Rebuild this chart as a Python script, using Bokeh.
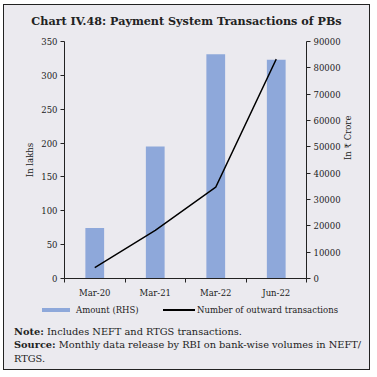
from bokeh.plotting import figure
from bokeh.models import Range1d, LinearAxis, FixedTicker, Div
from bokeh.layouts import column
from bokeh.embed import file_html
from bokeh.resources import INLINE

# ---- data ----
categories = ["Mar-20", "Mar-21", "Mar-22", "Jun-22"]
amount_crore = [19200, 50100, 85200, 83100]          # bars, RHS
transactions_lakh = [16, 71, 135, 324]               # line, LHS
left_ticks = [0, 50, 100, 150, 200, 250, 300, 350]
right_ticks = [0, 10000, 20000, 30000, 40000, 50000, 60000, 70000, 80000, 90000]

title_text = "Chart IV.48: Payment System Transactions of PBs"
left_label = "In lakhs"
right_label = "In \u20b9 Crore"
legend_bar = "Amount (RHS)"
legend_line = "Number of outward transactions"
note_head = "Note:"
note_body = "Includes NEFT and RTGS transactions."
src_head = "Source:"
src_body1 = "Monthly data release by RBI on bank-wise volumes in NEFT/"
src_body2 = "RTGS."

BAR = "#8EA8DA"
BG = "#EBEAEF"
INK = "#222222"
FONT = "DejaVu Serif"

xs = [i + 0.5 for i in range(len(categories))]
bounds = [i for i in range(len(categories) + 1)]

p = figure(width=367, height=267, x_range=Range1d(0, len(categories)),
           y_range=Range1d(0, 350), output_backend="svg", toolbar_location=None,
           min_border_left=60, min_border_right=63, min_border_top=8,
           min_border_bottom=21, margin=0)
p.border_fill_color = BG
p.background_fill_color = BG
p.outline_line_color = None
p.grid.visible = False
p.extra_y_ranges = {"rhs": Range1d(0, 90000)}

bars = p.vbar(x=xs, top=amount_crore, width=0.31, y_range_name="rhs",
              fill_color=BAR, line_color=None)
line = p.line(xs, transactions_lakh, line_color="black", line_width=1.4)

# x axis
xa = p.xaxis[0]
xa.ticker = FixedTicker(ticks=xs, minor_ticks=bounds)
xa.major_label_overrides = {x: c for x, c in zip(xs, categories)}
xa.major_tick_in = 0
xa.major_tick_out = 0
xa.minor_tick_in = 0
xa.minor_tick_out = 4
xa.minor_tick_line_color = INK
xa.axis_line_color = INK
xa.major_label_text_font = FONT
xa.major_label_text_font_size = "8.5px"
xa.major_label_text_color = INK
xa.major_label_standoff = 5

ya = p.yaxis[0]
ya.ticker = FixedTicker(ticks=left_ticks)
ya.major_tick_in = 0
ya.major_tick_out = 4
ya.minor_tick_line_color = None
ya.axis_line_color = INK
ya.major_tick_line_color = INK
ya.major_label_text_font = FONT
ya.major_label_text_font_size = "8.5px"
ya.major_label_text_color = INK
ya.major_label_standoff = 3
ya.axis_label = left_label
ya.axis_label_text_font = FONT
ya.axis_label_text_font_size = "8.5px"
ya.axis_label_text_font_style = "normal"
ya.axis_label_text_color = INK
ya.axis_label_standoff = 3

ra = LinearAxis(y_range_name="rhs", ticker=FixedTicker(ticks=right_ticks))
ra.major_tick_in = 0
ra.major_tick_out = 4
ra.minor_tick_line_color = None
ra.axis_line_color = INK
ra.major_tick_line_color = INK
ra.major_label_text_font = FONT
ra.major_label_text_font_size = "8.5px"
ra.major_label_text_color = INK
ra.major_label_standoff = 3
ra.axis_label = right_label
ra.axis_label_text_font = FONT
ra.axis_label_text_font_size = "8.5px"
ra.axis_label_text_font_style = "normal"
ra.axis_label_text_color = INK
ra.axis_label_standoff = 4
ra.axis_label_orientation = 1.5708
p.add_layout(ra, "right")

title_div = Div(text=title_text, width=367, height=28, margin=0,
                styles={"font-family": FONT, "font-weight": "bold",
                        "font-size": "11.2px", "color": INK,
                        "text-align": "center", "line-height": "33px",
                        "width": "367px", "white-space": "nowrap"})

legend_html = (
    '<div style="position:relative;height:20px;width:367px;">'
    f'<span style="position:absolute;left:38px;top:8px;width:28px;height:4px;'
    f'background:{BAR};"></span>'
    f'<span style="position:absolute;left:72px;top:0px;line-height:20px;'
    f'font-size:8.5px;">{legend_bar}</span>'
    '<span style="position:absolute;left:159px;top:9px;width:32px;height:1.5px;'
    'background:#000;"></span>'
    f'<span style="position:absolute;left:193px;top:0px;line-height:20px;'
    f'font-size:8.5px;">{legend_line}</span>'
    '</div>'
)
notes_html = (
    '<div style="padding-left:10px;padding-top:4.5px;line-height:13.5px;'
    'font-size:9.8px;white-space:nowrap;">'
    f"<b>{note_head}</b> {note_body}<br>"
    f"<b>{src_head}</b> {src_body1}<br>{src_body2}</div>"
)
notes_div = Div(text=legend_html + notes_html, width=367, height=71, margin=0,
                styles={"font-family": FONT, "color": INK})

page = column(title_div, p, notes_div, width=367, height=366,
              sizing_mode="fixed", margin=(4, 0, 0, 3),
              styles={"background-color": BG, "border": "1px solid #222"})

open("out.html", "w").write(file_html(page, INLINE))
